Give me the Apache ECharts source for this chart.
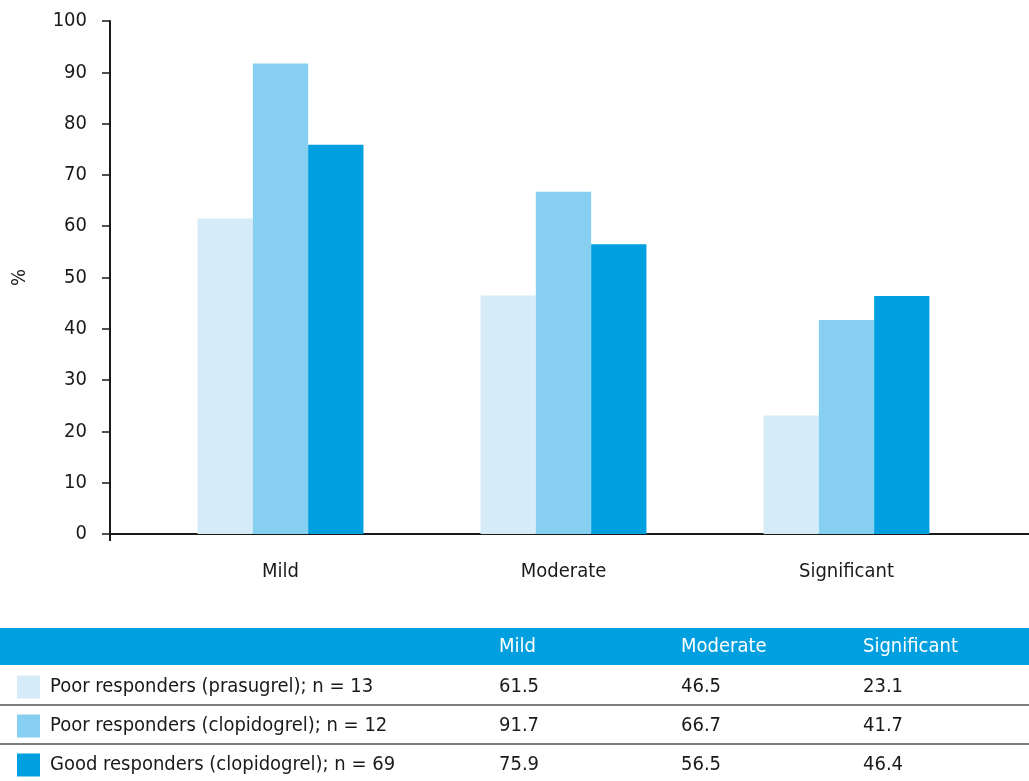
<!DOCTYPE html>
<html>
<head>
<meta charset="utf-8">
<script src="https://cdn.jsdelivr.net/npm/echarts@6/dist/echarts.min.js"></script>
<style>
html,body{margin:0;padding:0;background:#fff;}
#chart{width:1029px;height:781px;}
</style>
</head>
<body>
<div id="chart"></div>
<script>
const categories = ['Mild', 'Moderate', 'Significant'];
const seriesNames = [
  'Poor responders (prasugrel); n = 13',
  'Poor responders (clopidogrel); n = 12',
  'Good responders (clopidogrel); n = 69'
];
const poorPrasugrel = [61.5, 46.5, 23.1];
const poorClopidogrel = [91.7, 66.7, 41.7];
const goodClopidogrel = [75.9, 56.5, 46.4];
const yTicks = [0, 10, 20, 30, 40, 50, 60, 70, 80, 90, 100];

const colors = ['#d6ebf8', '#87cff0', '#009fe0'];
const allSeries = [poorPrasugrel, poorClopidogrel, goodClopidogrel];
const FONT = '"DejaVu Sans Condensed", "Liberation Sans", Arial, sans-serif';

const chart = echarts.init(document.getElementById('chart'));

// Table graphics
const graphics = [];
graphics.push({type:'rect', shape:{x:0, y:628, width:1029, height:37}, style:{fill:'#009fdf'}, silent:true});
const colX = [499, 681, 863];
const rowY = [687, 726, 765];
categories.forEach((c, i) => {
  graphics.push({type:'text', x:colX[i], y:647, style:{text:c, fill:'#ffffff', font:'20px ' + FONT, textVerticalAlign:'middle', textAlign:'left'}});
});
[705, 744].forEach(y => {
  graphics.push({type:'line', shape:{x1:0, y1:y, x2:1029, y2:y}, style:{stroke:'#555555', lineWidth:1.5}});
});
seriesNames.forEach((n, r) => {
  graphics.push({type:'rect', shape:{x:17, y:rowY[r]-11.5, width:23, height:23}, style:{fill:colors[r]}});
  graphics.push({type:'text', x:50, y:rowY[r], style:{text:n, fill:'#1a1a1a', font:'20px ' + FONT, textVerticalAlign:'middle', textAlign:'left'}});
  allSeries[r].forEach((v, i) => {
    graphics.push({type:'text', x:colX[i], y:rowY[r], style:{text:v.toFixed(1), fill:'#1a1a1a', font:'20px ' + FONT, textVerticalAlign:'middle', textAlign:'left'}});
  });
});

chart.setOption({
  animation: false,
  grid: [
    {left:139, width:849, top:21, bottom:247},
    {left:110, right:0, top:21, bottom:247}
  ],
  xAxis: [
    {type:'category', gridIndex:0, data:categories,
     axisLine:{show:false}, axisTick:{show:false},
     axisLabel:{fontSize:20, color:'#1a1a1a', fontFamily:FONT, margin:28}},
    {type:'value', gridIndex:1, min:0, max:1, interval:1,
     axisLine:{show:true, lineStyle:{color:'#1a1a1a', width:2}},
     axisTick:{show:true, length:7, customValues:[0], lineStyle:{color:'#1a1a1a', width:2}},
     axisLabel:{show:false}, splitLine:{show:false}}
  ],
  yAxis: [
    {type:'value', gridIndex:0, min:yTicks[0], max:yTicks[yTicks.length-1], interval:10,
     offset:29,
     name:'%', nameLocation:'middle', nameGap:80, nameRotate:90,
     nameTextStyle:{fontSize:20, color:'#1a1a1a', fontFamily:FONT},
     axisLine:{show:true, lineStyle:{color:'#1a1a1a', width:2}},
     axisTick:{show:true, length:8, lineStyle:{color:'#1a1a1a', width:1.5}},
     axisLabel:{fontSize:20, color:'#1a1a1a', fontFamily:FONT, margin:23},
     splitLine:{show:false}},
    {type:'value', gridIndex:1, show:false, min:0, max:1}
  ],
  series: allSeries.map((d, i) => ({
    type:'bar', name:seriesNames[i], data:d, xAxisIndex:0, yAxisIndex:0,
    barWidth:55.3, barGap:'0%', itemStyle:{color:colors[i]}, silent:true
  })),
  graphic: graphics
});
</script>
</body>
</html>
